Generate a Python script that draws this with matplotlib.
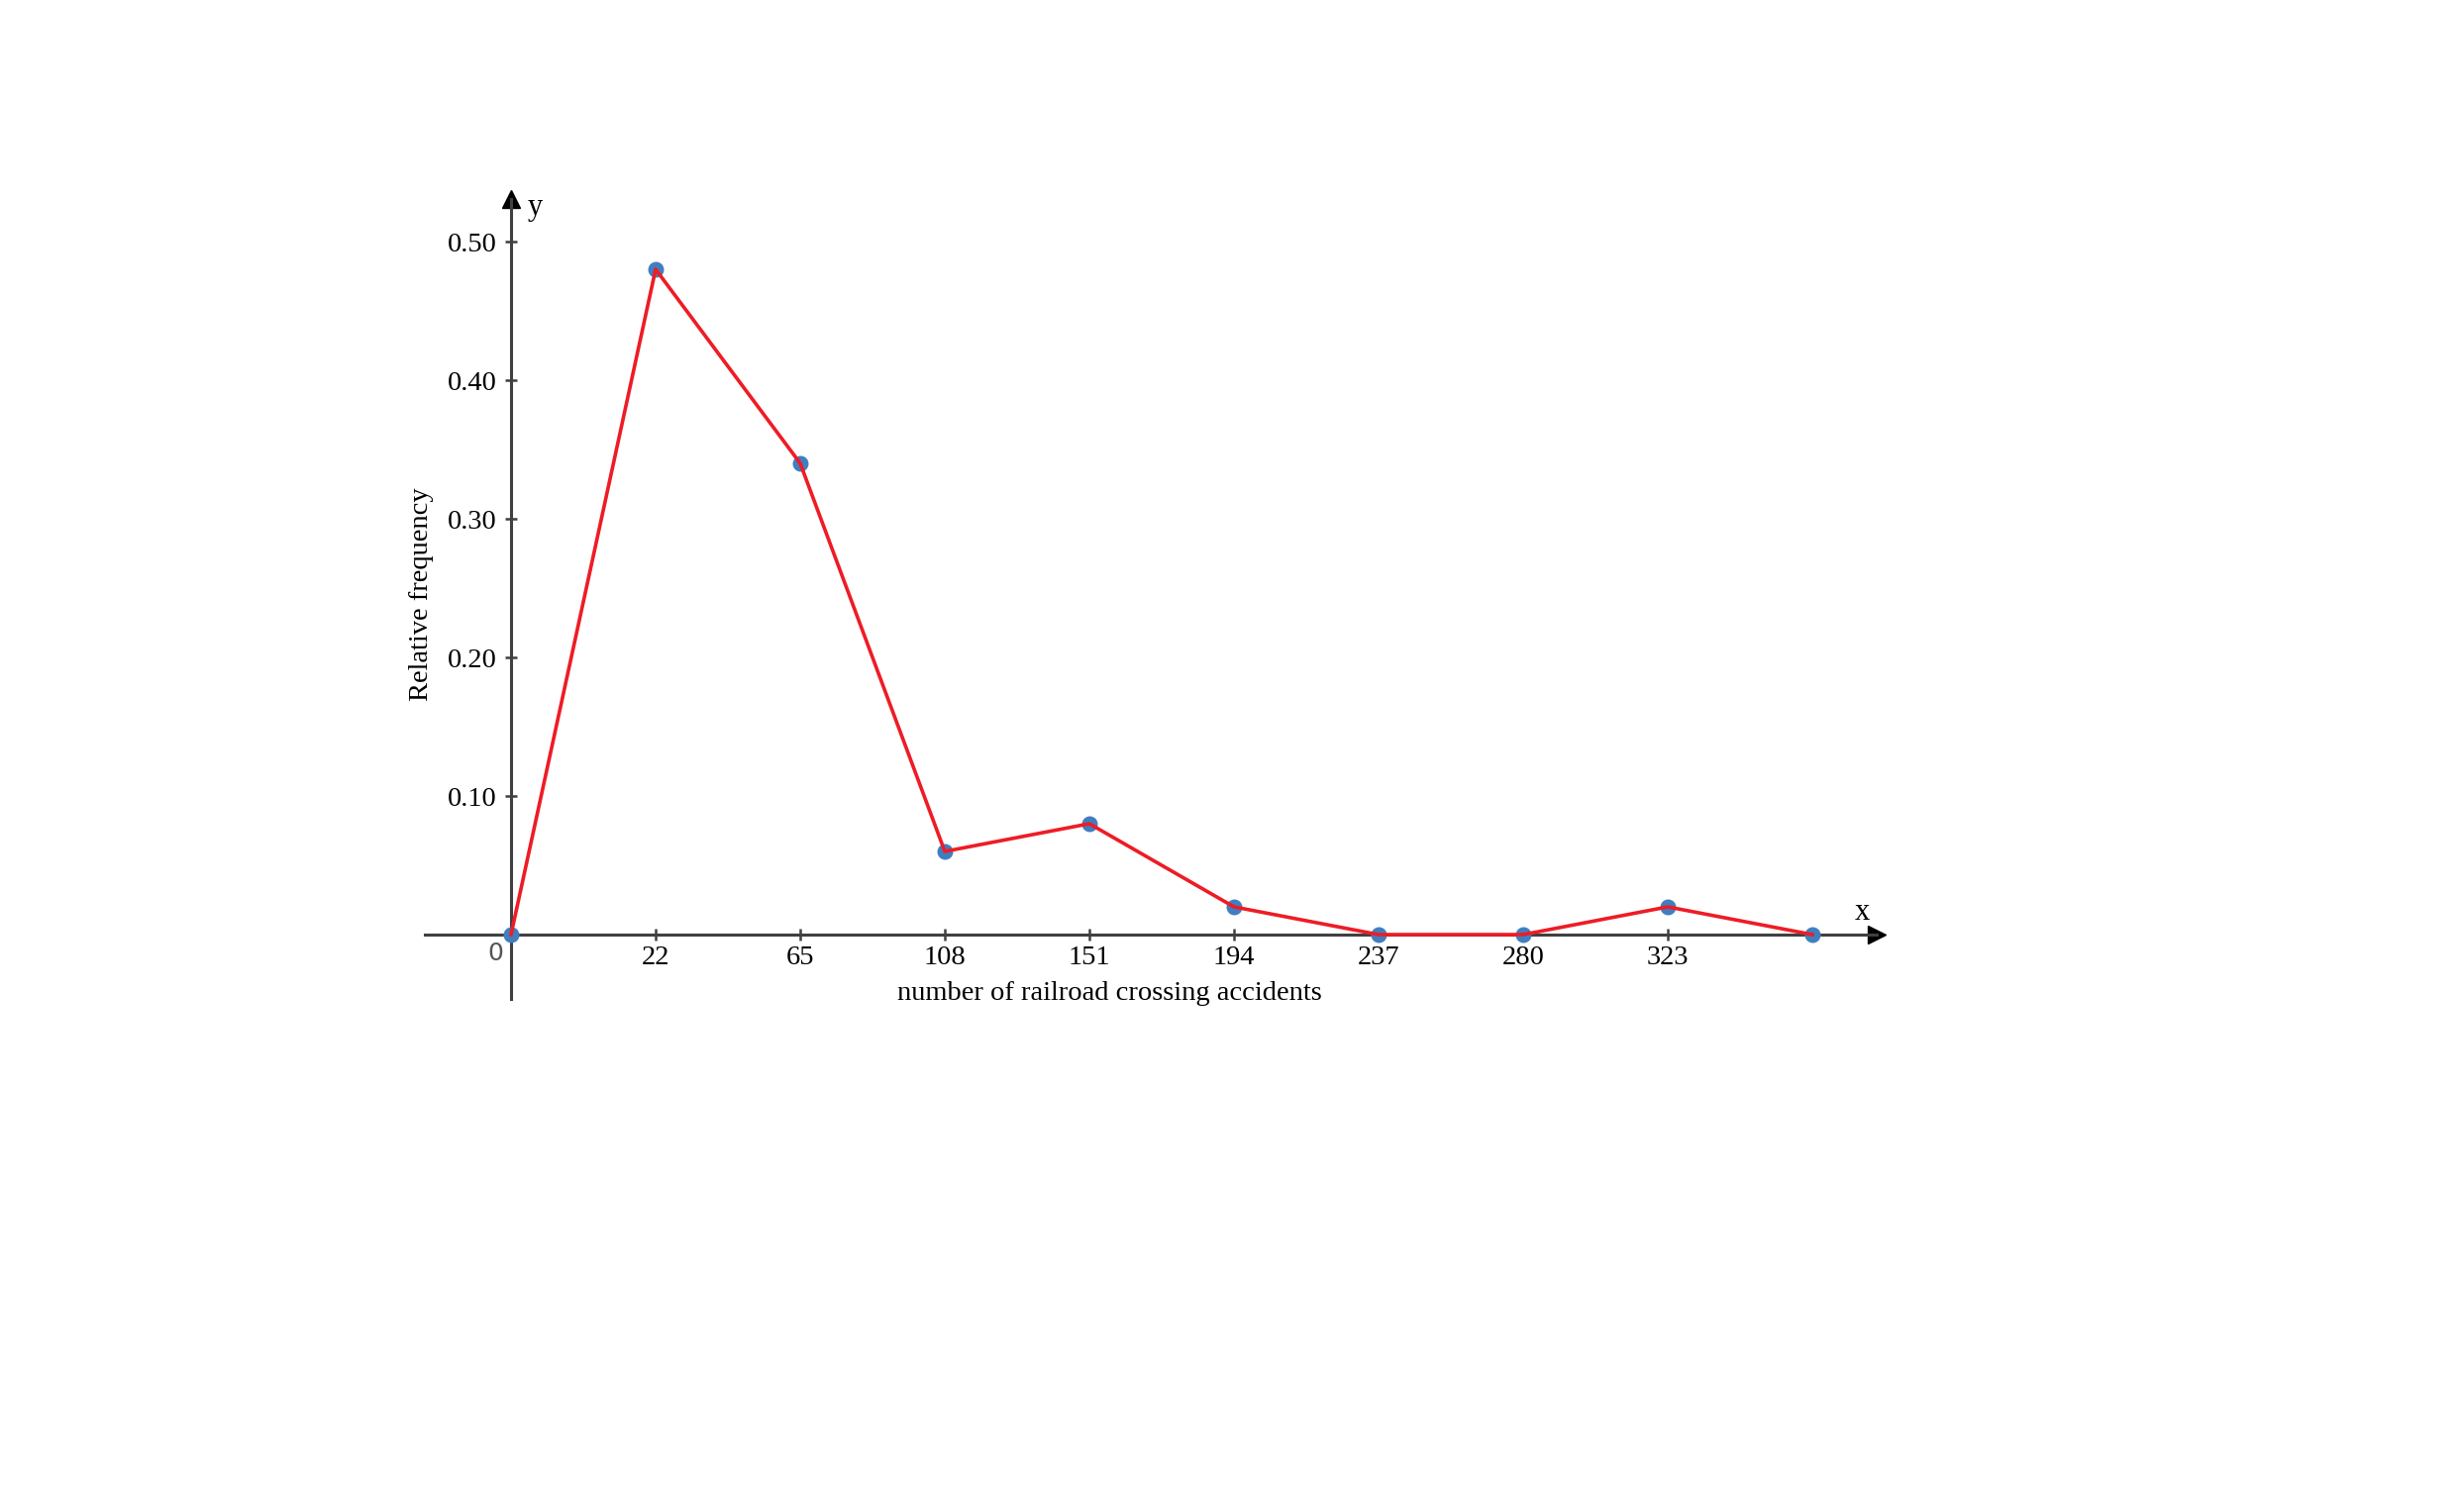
import matplotlib
matplotlib.use("Agg")
import matplotlib.pyplot as plt

# class midpoints (labels) and relative frequencies
x_labels = ["22", "65", "108", "151", "194", "237", "280", "323"]
rel_freq = [0, 0.48, 0.34, 0.06, 0.08, 0.02, 0, 0, 0.02, 0]
y_ticks = [0.10, 0.20, 0.30, 0.40, 0.50]

positions = list(range(len(rel_freq)))

plt.rcParams['font.family'] = ['Liberation Serif', 'DejaVu Serif']

W, H = 2488, 1504
fig = plt.figure(figsize=(W / 100, H / 100), dpi=100)
# axes box in pixels: left 429, right 1895, bottom 1009, top 201
ax = fig.add_axes([429 / W, 1 - 1009 / H, (1895 - 429) / W, (1009 - 201) / H])
ax.set_xlim(-87 / 146, 1379 / 146)
ax.set_ylim(-65 / 1400, 743 / 1400)

axis_col = '#404040'
for s in ['top', 'right']:
    ax.spines[s].set_visible(False)
ax.spines['left'].set_position(('data', 0))
ax.spines['bottom'].set_position(('data', 0))
for s in ['left', 'bottom']:
    ax.spines[s].set_color(axis_col)
    ax.spines[s].set_linewidth(2.2)

# arrow heads
ax.plot(1, 0, '>', color='black', markersize=13, transform=ax.get_yaxis_transform(), clip_on=False)
ax.plot(0, 1, '^', color='black', markersize=13, transform=ax.get_xaxis_transform(), clip_on=False)

ax.set_xticks(positions[1:len(x_labels) + 1])
ax.set_xticklabels(x_labels)
ax.set_yticks(y_ticks)
ax.set_yticklabels([f"{v:.2f}" for v in y_ticks])
ax.tick_params(axis='x', direction='inout', length=8, width=1.8, color=axis_col,
               labelsize=20.5, pad=4)
ax.tick_params(axis='y', direction='inout', length=9, width=1.8, color=axis_col,
               labelsize=20.5, pad=6)

ax.plot(positions, rel_freq, 'o', color='#3f7fbf', markersize=10.5, zorder=3, clip_on=False)
ax.plot(positions, rel_freq, '-', color='#ee1c25', linewidth=2.6, zorder=4, clip_on=False)

# origin label
fig.text(500 / W, 1 - 963 / H, "0", fontsize=18, color='#555555', family='DejaVu Sans',
         ha='center', va='center')
fig.text(540 / W, 1 - 210 / H, "y", fontsize=22, ha='center', va='center')
fig.text(1880 / W, 1 - 922 / H, "x", fontsize=22, ha='center', va='center')
fig.text(1120 / W, 1 - 1003 / H, "number of railroad crossing accidents", fontsize=20.5,
         ha='center', va='center')
fig.text(426 / W, 1 - 600 / H, "Relative frequency", fontsize=20.5, rotation=90,
         ha='center', va='center')

fig.savefig("out.png", dpi=100)
